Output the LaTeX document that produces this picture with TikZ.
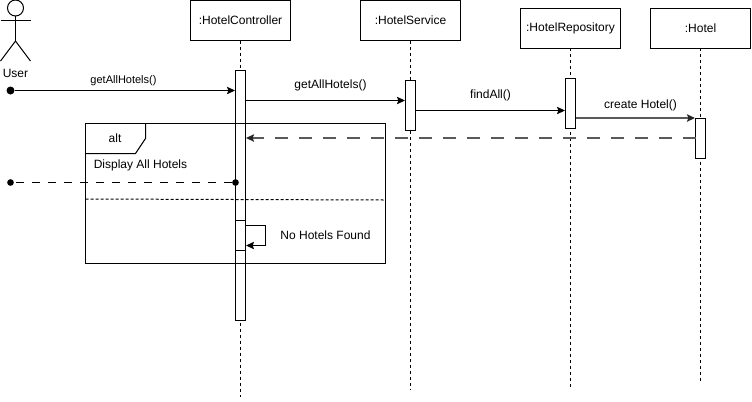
\documentclass[tikz,border=0pt]{standalone}
\usepackage{fontspec}
\setmainfont{Liberation Sans}
\usetikzlibrary{arrows.meta}

\tikzset{
	lifebox/.style={draw, fill=white, line width=0.75pt, minimum width=75pt, minimum height=30pt, inner sep=0pt, outer sep=0pt, font=\fontsize{9}{11}\selectfont},
	lifeline/.style={line width=0.75pt, dash pattern=on 2.25pt off 2.25pt},
	activebar/.style={draw, fill=white, line width=0.75pt, minimum width=7.5pt, inner sep=0pt, outer sep=0pt, anchor=north},
	msg/.style={line width=0.75pt, -{Stealth[length=6pt, width=5.5pt, inset=1pt]}},
	softmsg/.style={msg, draw=black!65, line width=1.1pt, -{Stealth[length=6pt, width=5.5pt, inset=1pt, black!85]}},
	reply/.style={line width=0.75pt, dash pattern=on 6pt off 6pt},
	enddot/.style={circle, fill=black, minimum size=5pt, inner sep=0pt, outer sep=0pt},
	lbl/.style={inner sep=0pt, font=\fontsize{9}{11}\selectfont},
}

\begin{document}
\begin{tikzpicture}[x=0.75pt, y=-0.75pt]

	\useasboundingbox (0,0) rectangle (752,401);

	% Lifeline heads
	\node[lifebox] (controller) at (240.5,20.5) {:HotelController};
	\node[lifebox] (service) at (410.5,20.5) {:HotelService};
	\node[lifebox] (repository) at (570.5,28) {:HotelRepository};
	\node[lifebox] (hotel) at (700.5,28) {:Hotel};

	% Lifeline ends
	\coordinate (controllerend) at (240.5,397);
	\coordinate (serviceend) at (410.5,390);
	\coordinate (repositoryend) at (570.5,388);
	\coordinate (hotelend) at (700.5,381);

	\foreach \i in {controller,service,repository,hotel}
	\draw[lifeline] (\i) -- (\i end);

	% Activations
	\node[activebar, minimum height=187.5pt] (controllerbar) at (240.5,70.5) {};
	\node[activebar, minimum height=37.5pt] (servicebar) at (410.5,80.5) {};
	\node[activebar, minimum height=37.5pt] (repositorybar) at (570.5,78) {};
	\node[activebar, minimum height=30pt] (hotelbar) at (700.5,118) {};
	\node[activebar, minimum height=22.5pt] (selfbar) at (240.5,220.5) {};

	% Actor
	\node[circle, draw, line width=0.75pt, minimum size=12pt, inner sep=0pt, outer sep=0pt] (head) at (15.5,8) {};
	\coordinate (hip) at (15.5,41);
	\coordinate (armleft) at (0.5,20.5);
	\coordinate (armright) at (30.5,20.5);
	\coordinate (footleft) at (0.5,61);
	\coordinate (footright) at (30.5,61);
	\draw[line width=0.75pt] (head) -- (hip);
	\draw[line width=0.75pt] (armleft) -- (armright);
	\draw[line width=0.75pt] (footleft) -- (hip) -- (footright);
	\node[lbl] (user) at (15.5,73.5) {User};

	% Message ends
	\node[enddot, minimum size=6pt] (userdot) at (10.5,90.5) {};
	\coordinate (1) at (235,90.5);
	\coordinate (2) at (245.5,100.5);
	\coordinate (3) at (405,100.5);
	\coordinate (4) at (415.5,110.5);
	\coordinate (5) at (565,110.5);
	\coordinate (6) at (575.5,118);
	\coordinate (7) at (695,118);
	\coordinate (8) at (695.5,138);
	\coordinate (9) at (246,138);
	\node[enddot] (replydot) at (10.5,182.5) {};
	\node[enddot] (barbdot) at (235.5,182.5) {};
	\coordinate (10) at (245.5,225.5);
	\coordinate (11) at (265.5,225.5);
	\coordinate (12) at (265.5,245.5);
	\coordinate (13) at (246,245.5);

	\draw[msg] (userdot) -- (1);
	\draw[msg] (2) -- (3);
	\draw[msg] (4) -- (5);
	\draw[softmsg] (6) -- (7);
	\draw[softmsg, dash pattern=on 9.75pt off 8.25pt] (8) -- (9);
	\draw[reply] (barbdot) -- (replydot);
	\draw[msg] (10) -- (11) -- (12) -- (13);

	% Alt frame
	\coordinate (altnw) at (85.5,123.5);
	\coordinate (altse) at (385.5,263.5);
	\coordinate (tab1) at (145.5,123.5);
	\coordinate (tab2) at (145.5,138.5);
	\coordinate (tab3) at (135.5,153.5);
	\coordinate (tab4) at (85.5,153.5);
	\coordinate (sep1) at (85.5,199);
	\coordinate (sep2) at (385.5,200);
	\draw[line width=0.75pt] (altnw) rectangle (altse);
	\draw[line width=0.75pt] (tab1) -- (tab2) -- (tab3) -- (tab4);
	\draw[line width=0.75pt, dash pattern=on 2.25pt off 1.5pt] (sep1) -- (sep2);

	% Labels
	\node[lbl, font=\fontsize{8.25}{10}\selectfont] (label1) at (123.5,81) {getAllHotels()};
	\node[lbl] (label2) at (330.5,85) {getAllHotels()};
	\node[lbl] (label3) at (490.5,95) {findAll()};
	\node[lbl] (label4) at (640.5,105) {create Hotel()};
	\node[lbl] (alttext) at (115,138) {alt};
	\node[lbl] (display) at (140.5,165.5) {Display All Hotels};
	\node[lbl] (nofound) at (325.5,235.5) {No Hotels Found};

\end{tikzpicture}
\end{document}
